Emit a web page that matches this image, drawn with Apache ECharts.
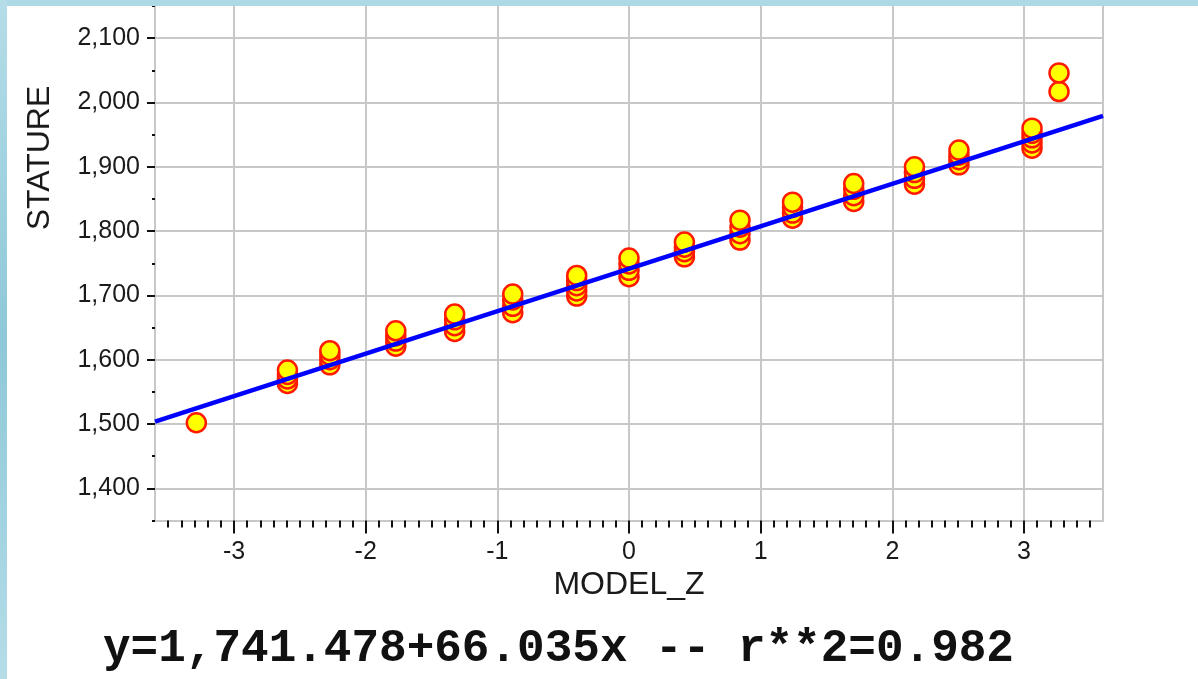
<!DOCTYPE html>
<html>
<head>
<meta charset="utf-8">
<script src="https://cdn.jsdelivr.net/npm/echarts@6/dist/echarts.min.js"></script>
<style>
html,body{margin:0;padding:0;background:#ffffff;}
#chart{width:1198px;height:679px;}
</style>
</head>
<body>
<div id="chart"></div>
<script>
// ---- data ----
const xTitle = 'MODEL_Z';
const yTitle = 'STATURE';
const xTickValues = [-3, -2, -1, 0, 1, 2, 3];
const yTickValues = [1400, 1500, 1600, 1700, 1800, 1900, 2000, 2100];
const xRange = [-3.6, 3.6];
const yRange = [1350, 2150];
const clusterZ = [-3.286, -2.594, -2.272, -1.771, -1.324, -0.883, -0.397, 0, 0.421, 0.843, 1.242, 1.707, 2.168, 2.506, 3.061, 3.266];
const clusterStature = [
  [1502],
  [1563, 1570, 1577, 1584],
  [1592, 1600, 1607, 1614],
  [1621, 1629, 1637, 1645],
  [1644, 1653, 1662, 1671],
  [1673, 1683, 1693, 1702],
  [1699, 1707, 1715, 1723, 1731],
  [1729, 1739, 1749, 1758],
  [1760, 1768, 1775, 1783],
  [1786, 1796, 1806, 1817],
  [1820, 1828, 1837, 1845],
  [1846, 1855, 1865, 1874],
  [1873, 1882, 1891, 1900],
  [1903, 1911, 1918, 1926],
  [1929, 1937, 1945, 1952, 1960],
  [2017, 2046]
];
const fitIntercept = 1741.478;
const fitSlope = 66.035;
const rSquared = 0.982;

// ---- derived ----
const points = [];
clusterZ.forEach((z, i) => clusterStature[i].forEach(s => points.push([z, s])));
const fitLine = xRange.map(x => [x, fitIntercept + fitSlope * x]);
const minorXTicks = [];
for (let i = -35; i <= 35; i++) minorXTicks.push(i / 10);

function commaFmt(v, dec) {
  const s = v.toFixed(dec);
  const parts = s.split('.');
  parts[0] = parts[0].replace(/\B(?=(\d{3})+(?!\d))/g, ',');
  return parts.join('.');
}
const eqText = 'y=' + commaFmt(fitIntercept, 3) + '+' + fitSlope.toFixed(3) + 'x -- r**2=' + rSquared.toFixed(3);

const GRID_C = '#c8c8c8';
const TXT = '#1a1a1a';
const FONT = '"Liberation Sans", Arial, sans-serif';

const chart = echarts.init(document.getElementById('chart'), null, {renderer: 'canvas'});
const option = {
  animation: false,
  backgroundColor: '#ffffff',
  grid: {left: 155, right: 95, top: 6, bottom: 158.5},
  xAxis: [
    {
      type: 'value', min: xRange[0], max: xRange[1], position: 'bottom',
      name: xTitle, nameLocation: 'middle', nameGap: 47,
      nameTextStyle: {fontFamily: FONT, fontSize: 32, color: TXT},
      axisLine: {show: true, onZero: false, lineStyle: {color: GRID_C, width: 2}},
      axisTick: {show: true, customValues: xTickValues, length: 13, lineStyle: {color: '#111', width: 2}},
      axisLabel: {show: true, customValues: xTickValues, margin: 19, fontFamily: FONT, fontSize: 25, color: TXT,
                  formatter: v => String(Math.round(v))},
      splitLine: {show: true, lineStyle: {color: GRID_C, width: 2}}
    },
    {
      type: 'value', min: xRange[0], max: xRange[1], position: 'bottom', offset: 0,
      axisLine: {show: false, onZero: false},
      axisTick: {show: true, customValues: minorXTicks, length: 7, lineStyle: {color: '#111', width: 2}},
      axisLabel: {show: false},
      splitLine: {show: false}
    }
  ],
  yAxis: [
    {
      type: 'value', min: yRange[0], max: yRange[1], position: 'left',
      axisLine: {show: true, onZero: false, lineStyle: {color: GRID_C, width: 2}},
      axisTick: {show: true, customValues: yTickValues, length: 8, lineStyle: {color: '#111', width: 2}},
      axisLabel: {show: true, customValues: yTickValues, margin: 15, fontFamily: FONT, fontSize: 25, color: TXT,
                  formatter: v => commaFmt(v, 0)},
      splitLine: {show: true, lineStyle: {color: GRID_C, width: 2}}
    },
    {
      type: 'value', min: yRange[0], max: yRange[1], interval: 50, position: 'left',
      axisLine: {show: false, onZero: false},
      axisTick: {show: true, length: 3, lineStyle: {color: '#111', width: 2}},
      axisLabel: {show: false},
      splitLine: {show: false}
    },
    {
      type: 'value', min: yRange[0], max: yRange[1], position: 'right',
      axisLine: {show: true, onZero: false, lineStyle: {color: GRID_C, width: 2}},
      axisTick: {show: false}, axisLabel: {show: false}, splitLine: {show: false}
    }
  ],
  series: [
    {
      type: 'scatter', xAxisIndex: 0, yAxisIndex: 0, data: points,
      symbol: 'circle', symbolSize: 19,
      itemStyle: {color: '#ffff00', borderColor: '#ff1a00', borderWidth: 2.5, opacity: 1},
      z: 3
    },
    {
      type: 'line', xAxisIndex: 0, yAxisIndex: 0, data: fitLine,
      symbol: 'none', lineStyle: {color: '#0000ff', width: 4.5}, z: 4
    }
  ],
  graphic: [
    {type: 'rect', z: 100, shape: {x: 0, y: 0, width: 1198, height: 6}, style: {fill: '#acd9e5'}},
    {type: 'rect', z: 100, shape: {x: 0, y: 0, width: 7, height: 679},
     style: {fill: new echarts.graphic.LinearGradient(0, 0, 0, 1, [
       {offset: 0, color: '#b4dde8'}, {offset: 0.5, color: '#8fc8d8'}, {offset: 1, color: '#b4dde8'}])}},
    {type: 'text', z: 50, x: 40, y: 158, rotation: Math.PI / 2,
     style: {text: yTitle, font: '32px ' + FONT, fill: TXT, align: 'center', verticalAlign: 'middle'}},
    {type: 'text', z: 50, x: 103, y: 649,
     style: {text: eqText, font: 'bold 46px "Liberation Mono", "Courier New", monospace', fill: '#111', align: 'left', verticalAlign: 'middle'}}
  ]
};
chart.setOption(option);
</script>
</body>
</html>
